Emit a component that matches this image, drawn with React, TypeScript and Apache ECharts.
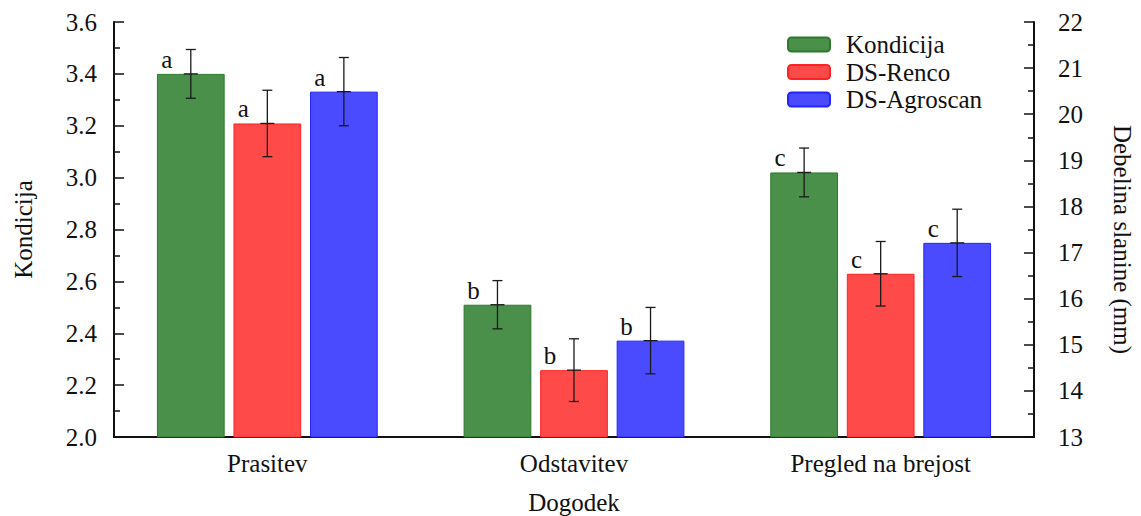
import React, { useEffect, useRef } from "react";
import * as echarts from "echarts";

const categories = ["Prasitev", "Odstavitev", "Pregled na brejost"];
const kondicija = [3.4, 2.51, 3.02];
const kondicijaErr = [0.094, 0.093, 0.094];
const renco = [19.8, 14.45, 16.54];
const rencoErr = [0.72, 0.68, 0.7];
const agroscan = [20.49, 15.09, 17.21];
const agroscanErr = [0.74, 0.72, 0.73];
const letters = ["a", "b", "c"];

const FONT = "Liberation Serif";
const CAT_GAP = 0.28;
const BAR_GAP = 0.13;
const N_BARS = 3;

const errData = (vals: number[], errs: number[]) =>
  vals.map((v, i) => [i, v - errs[i], v + errs[i], v]);

const makeErrSeries = (name: string, vals: number[], errs: number[], idx: number, yAxisIndex: number) => ({
  type: "custom",
  name: name + "-err",
  yAxisIndex,
  z: 10,
  silent: true,
  data: errData(vals, errs),
  encode: { x: 0, y: [1, 2] },
  renderItem: (params: any, api: any) => {
    const cat = api.value(0);
    const lo = api.coord([cat, api.value(1)]);
    const hi = api.coord([cat, api.value(2)]);
    const mid = api.coord([cat, api.value(3)]);
    const catW = api.size([1, 0])[0];
    const usable = catW * (1 - CAT_GAP);
    const bw = usable / (N_BARS + (N_BARS - 1) * BAR_GAP);
    const x = lo[0] - usable / 2 + bw / 2 + idx * bw * (1 + BAR_GAP);
    const cap = 5;
    const style = { stroke: "#1a1a1a", lineWidth: 1.3 };
    return {
      type: "group",
      children: [
        { type: "line", shape: { x1: x, y1: lo[1], x2: x, y2: hi[1] }, style },
        { type: "line", shape: { x1: x - cap, y1: lo[1], x2: x + cap, y2: lo[1] }, style },
        { type: "line", shape: { x1: x - cap, y1: hi[1], x2: x + cap, y2: hi[1] }, style },
        { type: "line", shape: { x1: x - 7, y1: mid[1], x2: x + 7, y2: mid[1] }, style },
      ],
    };
  },
});

const letterLabel = {
  show: true,
  position: "top",
  distance: 2,
  offset: [-24, 0],
  fontSize: 25,
  fontFamily: FONT,
  color: "#111",
  formatter: (p: any) => letters[p.dataIndex],
};

export default function App() {
  const ref = useRef<HTMLDivElement>(null);
  useEffect(() => {
    document.body.style.margin = "0";
    const chart = echarts.init(ref.current!, undefined, { renderer: "svg" });
    const axisText = { fontSize: 25, fontFamily: FONT, color: "#111" };
    chart.setOption({
      animation: false,
      textStyle: { fontFamily: FONT },
      grid: { left: 114, right: 107, top: 22, bottom: 79, outerBoundsMode: "none", containLabel: false },
      legend: {
        orient: "vertical",
        left: 782,
        top: 27,
        itemWidth: 42,
        itemHeight: 14,
        itemGap: 2.5,
        textStyle: { fontSize: 25, fontFamily: FONT, color: "#111", padding: [0, 0, 0, 11] },
        data: ["Kondicija", "DS-Renco", "DS-Agroscan"],
      },
      xAxis: {
        type: "category",
        data: categories,
        name: "Dogodek",
        nameLocation: "middle",
        nameGap: 53,
        nameTextStyle: axisText,
        axisLine: { show: true, lineStyle: { color: "#111", width: 2 } },
        axisTick: { show: false },
        axisLabel: { ...axisText, margin: 14 },
      },
      yAxis: [
        {
          type: "value",
          min: 2.0,
          max: 3.6,
          interval: 0.2,
          name: "Kondicija",
          nameLocation: "middle",
          nameGap: 78,
          nameTextStyle: axisText,
          axisLine: { show: true, lineStyle: { color: "#111", width: 2 } },
          axisTick: { show: true, inside: true, length: 10, lineStyle: { color: "#111", width: 1.5 } },
          minorTick: { show: true, splitNumber: 2, length: 6, lineStyle: { color: "#111", width: 1.5 } },
          splitLine: { show: false },
          axisLabel: { ...axisText, margin: 17, formatter: (v: number) => v.toFixed(1) },
        },
        {
          type: "value",
          min: 13,
          max: 22,
          interval: 1,
          name: "Debelina slanine (mm)",
          nameLocation: "middle",
          nameRotate: -90,
          nameGap: 75.5,
          nameTextStyle: { ...axisText, padding: [0, 0, 0, 20] },
          axisLine: { show: true, lineStyle: { color: "#111", width: 2 } },
          axisTick: { show: true, inside: true, length: 10, lineStyle: { color: "#111", width: 1.5 } },
          minorTick: { show: true, splitNumber: 2, length: 6, lineStyle: { color: "#111", width: 1.5 } },
          splitLine: { show: false },
          axisLabel: { ...axisText, margin: 24 },
        },
      ],
      series: [
        {
          type: "bar",
          name: "Kondicija",
          yAxisIndex: 0,
          data: kondicija,
          barCategoryGap: CAT_GAP * 100 + "%",
          barGap: BAR_GAP * 100 + "%",
          itemStyle: { color: "#4a8f4a", borderColor: "#2b7a2b", borderWidth: 1 },
          label: letterLabel,
        },
        {
          type: "bar",
          name: "DS-Renco",
          yAxisIndex: 1,
          data: renco,
          barCategoryGap: CAT_GAP * 100 + "%",
          barGap: BAR_GAP * 100 + "%",
          itemStyle: { color: "#ff4a4a", borderColor: "#ff2424", borderWidth: 1 },
          label: letterLabel,
        },
        {
          type: "bar",
          name: "DS-Agroscan",
          yAxisIndex: 1,
          data: agroscan,
          barCategoryGap: CAT_GAP * 100 + "%",
          barGap: BAR_GAP * 100 + "%",
          itemStyle: { color: "#4a4aff", borderColor: "#2424ff", borderWidth: 1 },
          label: letterLabel,
        },
        makeErrSeries("Kondicija", kondicija, kondicijaErr, 0, 0),
        makeErrSeries("DS-Renco", renco, rencoErr, 1, 1),
        makeErrSeries("DS-Agroscan", agroscan, agroscanErr, 2, 1),
      ],
    });
    return () => chart.dispose();
  }, []);
  return <div ref={ref} style={{ width: 1141, height: 516 }} />;
}
